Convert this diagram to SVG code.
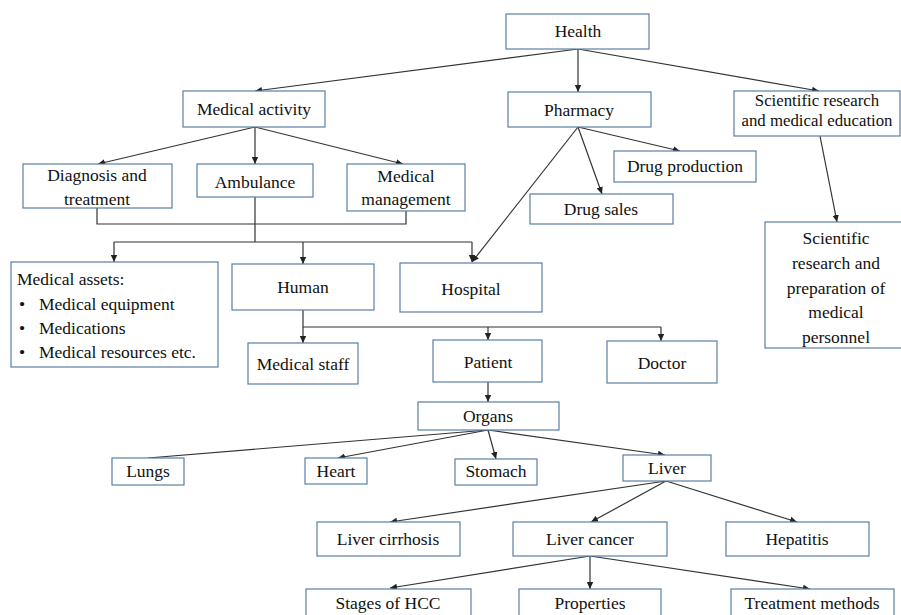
<svg xmlns="http://www.w3.org/2000/svg" width="901" height="615" viewBox="0 0 901 615">
<style>
.box{fill:#fff;stroke:#5a7fa6;stroke-width:1.2}
text{font-family:'Liberation Serif','DejaVu Serif',serif;font-size:17.5px;fill:#111}
.t{text-anchor:middle}
.s{font-size:16.8px}
.c{fill:none;stroke:#333;stroke-width:1.2}
.a{fill:none;stroke:#333;stroke-width:1.2;marker-end:url(#ah)}
</style>
<defs>
<marker id="ah" markerUnits="userSpaceOnUse" markerWidth="8" markerHeight="8" refX="7" refY="4" orient="auto">
<path d="M0,0.8 L7,4 L0,7.2 Z" fill="#222"/>
</marker>
</defs>
<rect width="901" height="615" fill="#fff"/>
<g id="connectors">
<line class="a" x1="578" y1="49" x2="255" y2="91"/>
<line class="a" x1="578" y1="49" x2="578" y2="92"/>
<line class="a" x1="578" y1="49" x2="819" y2="91"/>
<line class="a" x1="255" y1="127" x2="98" y2="164"/>
<line class="a" x1="255" y1="127" x2="255" y2="164"/>
<line class="a" x1="255" y1="127" x2="403" y2="164"/>
<line class="a" x1="578" y1="127" x2="680" y2="151"/>
<line class="a" x1="578" y1="127" x2="602" y2="194"/>
<line class="a" x1="578" y1="127" x2="472" y2="262"/>
<line class="a" x1="820" y1="136" x2="837" y2="222"/>
<polyline class="c" points="97,208 97,224 406,224 406,211"/>
<line class="c" x1="255" y1="197" x2="255" y2="242"/>
<line class="c" x1="114" y1="242" x2="472" y2="242"/>
<line class="a" x1="114" y1="242" x2="114" y2="262"/>
<line class="a" x1="303" y1="242" x2="303" y2="264"/>
<line class="a" x1="472" y1="242" x2="472" y2="262"/>
<line class="a" x1="303" y1="310" x2="303" y2="343"/>
<line class="c" x1="303" y1="327" x2="661" y2="327"/>
<line class="a" x1="488" y1="327" x2="488" y2="340"/>
<line class="a" x1="661" y1="327" x2="661" y2="341"/>
<line class="a" x1="488" y1="382" x2="488" y2="402"/>
<line class="c" x1="488" y1="430" x2="148" y2="458"/>
<line class="a" x1="488" y1="430" x2="338" y2="458"/>
<line class="a" x1="488" y1="430" x2="496" y2="459"/>
<line class="a" x1="488" y1="430" x2="665" y2="455"/>
<line class="a" x1="666" y1="481" x2="390" y2="522"/>
<line class="a" x1="666" y1="481" x2="591" y2="522"/>
<line class="a" x1="666" y1="481" x2="797" y2="522"/>
<line class="a" x1="590" y1="556" x2="390" y2="588"/>
<line class="a" x1="590" y1="556" x2="590" y2="589"/>
<line class="a" x1="590" y1="556" x2="810" y2="589"/>
</g>
<g id="health"><rect class="box" x="506" y="14" width="143" height="35"/><text class="t" x="578" y="37">Health</text></g>
<g id="medical-activity"><rect class="box" x="183" y="91" width="142" height="36"/><text class="t" x="254" y="115">Medical activity</text></g>
<g id="pharmacy"><rect class="box" x="508" y="92" width="143" height="35"/><text class="t" x="579" y="116">Pharmacy</text></g>
<g id="sci-edu"><rect class="box" x="734" y="91" width="166" height="45"/><text class="t s" x="817" y="106">Scientific research</text><text class="t s" x="817" y="126">and medical education</text></g>
<g id="diagnosis"><rect class="box" x="23" y="164" width="149" height="44"/><text class="t" x="97" y="181">Diagnosis and</text><text class="t" x="97" y="205">treatment</text></g>
<g id="ambulance"><rect class="box" x="197" y="164" width="116" height="33"/><text class="t" x="255" y="188">Ambulance</text></g>
<g id="med-management"><rect class="box" x="347" y="164" width="118" height="47"/><text class="t" x="406" y="182">Medical</text><text class="t" x="406" y="205">management</text></g>
<g id="drug-production"><rect class="box" x="614" y="151" width="142" height="31"/><text class="t" x="685" y="172">Drug production</text></g>
<g id="drug-sales"><rect class="box" x="530" y="194" width="143" height="30"/><text class="t" x="601" y="215">Drug sales</text></g>
<g id="sci-prep"><rect class="box" x="765" y="222" width="140" height="126"/><text class="t" x="836" y="244">Scientific</text><text class="t" x="836" y="269">research and</text><text class="t" x="836" y="294">preparation of</text><text class="t" x="836" y="318">medical</text><text class="t" x="836" y="343">personnel</text></g>
<g id="medical-assets"><rect class="box" x="11" y="262" width="207" height="105"/>
<text x="17" y="285">Medical assets:</text>
<text x="19" y="310">•</text><text x="39" y="310">Medical equipment</text>
<text x="19" y="334">•</text><text x="39" y="334">Medications</text>
<text x="19" y="358">•</text><text x="39" y="358">Medical resources etc.</text></g>
<g id="human"><rect class="box" x="232" y="264" width="142" height="46"/><text class="t" x="303" y="293">Human</text></g>
<g id="hospital"><rect class="box" x="400" y="263" width="142" height="49"/><text class="t" x="471" y="295">Hospital</text></g>
<g id="medical-staff"><rect class="box" x="248" y="343" width="110" height="41"/><text class="t" x="303" y="370">Medical staff</text></g>
<g id="patient"><rect class="box" x="433" y="340" width="109" height="42"/><text class="t" x="488" y="368">Patient</text></g>
<g id="doctor"><rect class="box" x="607" y="341" width="110" height="42"/><text class="t" x="662" y="369">Doctor</text></g>
<g id="organs"><rect class="box" x="418" y="402" width="141" height="28"/><text class="t" x="488" y="422">Organs</text></g>
<g id="lungs"><rect class="box" x="112" y="458" width="72" height="27"/><text class="t" x="148" y="477">Lungs</text></g>
<g id="heart"><rect class="box" x="305" y="458" width="62" height="26"/><text class="t" x="336" y="477">Heart</text></g>
<g id="stomach"><rect class="box" x="455" y="459" width="82" height="26"/><text class="t" x="496" y="477">Stomach</text></g>
<g id="liver"><rect class="box" x="623" y="455" width="88" height="26"/><text class="t" x="667" y="474">Liver</text></g>
<g id="liver-cirrhosis"><rect class="box" x="317" y="522" width="143" height="34"/><text class="t" x="388" y="545">Liver cirrhosis</text></g>
<g id="liver-cancer"><rect class="box" x="513" y="522" width="154" height="34"/><text class="t" x="590" y="545">Liver cancer</text></g>
<g id="hepatitis"><rect class="box" x="726" y="522" width="143" height="34"/><text class="t" x="797" y="545">Hepatitis</text></g>
<g id="stages-hcc"><rect class="box" x="306" y="589" width="165" height="40"/><text class="t" x="388" y="609">Stages of HCC</text></g>
<g id="properties"><rect class="box" x="519" y="589" width="142" height="40"/><text class="t" x="590" y="609">Properties</text></g>
<g id="treatment-methods"><rect class="box" x="731" y="589" width="163" height="40"/><text class="t" x="812" y="609">Treatment methods</text></g>
</svg>
